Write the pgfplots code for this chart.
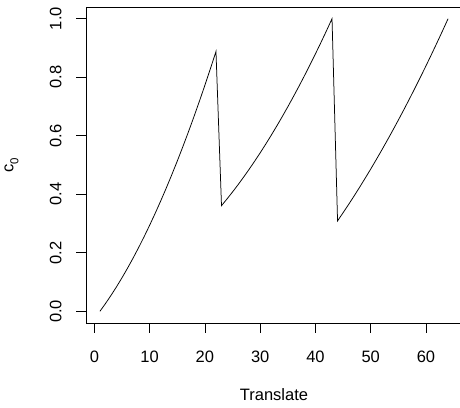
\documentclass[border=0pt]{standalone}
\usepackage{fontspec}
\setmainfont{Liberation Sans}
\usepackage{pgfplots}
\pgfplotsset{compat=1.18}
\begin{document}
\begin{tikzpicture}
\useasboundingbox (0,0) rectangle (460pt,407pt);
\begin{axis}[
  at={(86pt,84pt)}, anchor=south west,
  scale only axis, width=376pt, height=316pt,
  xmin=-1.52, xmax=66.52, ymin=-0.04, ymax=1.04,
  xtick={0,10,20,30,40,50,60},
  ytick={0,0.2,0.4,0.6,0.8,1.0},
  yticklabels={0.0,0.2,0.4,0.6,0.8,1.0},
  /pgf/number format/assume math mode=true,
  tick align=outside, major tick length=9.6pt,
  xtick pos=bottom, ytick pos=left,
  axis line style={line width=0.8pt},
  every tick/.style={black, line width=0.8pt},
  tick label style={font=\fontsize{16.5}{19}\selectfont},
  xticklabel style={anchor=base, yshift=-29.6pt},
  yticklabel style={xshift=-14.7pt, rotate=90, anchor=south, inner sep=0pt},
  xlabel={Translate}, ylabel={c\raisebox{-5pt}{\fontsize{11.5}{13}\selectfont 0}},
  every axis x label/.style={at={(axis description cs:0.5,0)}, anchor=base, yshift=-77pt, font=\fontsize{16.5}{19}\selectfont},
  every axis y label/.style={at={(axis description cs:0,0.5)}, xshift=-72.7pt, rotate=90, anchor=base, font=\fontsize{16.5}{19}\selectfont},
  clip=false,
]
\addplot[black, line width=0.75pt, mark=none] coordinates {
(1,0) (2,0.0263) (3,0.0542) (4,0.0837) (5,0.1148) (6,0.1475) (7,0.1818)
(8,0.2177) (9,0.2551) (10,0.2942) (11,0.3349) (12,0.3772) (13,0.4211)
(14,0.4665) (15,0.5136) (16,0.5623) (17,0.6125) (18,0.6644) (19,0.7179)
(20,0.7729) (21,0.8296) (22,0.8879)
(23,0.3610) (24,0.3840) (25,0.4079) (26,0.4327) (27,0.4586) (28,0.4853)
(29,0.5130) (30,0.5416) (31,0.5712) (32,0.6017) (33,0.6332) (34,0.6656)
(35,0.6990) (36,0.7333) (37,0.7685) (38,0.8047) (39,0.8418) (40,0.8799)
(41,0.9189) (42,0.9589) (43,1.0000)
(44,0.3090) (45,0.3368) (46,0.3651) (47,0.3943) (48,0.4242) (49,0.4549)
(50,0.4861) (51,0.5182) (52,0.5510) (53,0.5844) (54,0.6186) (55,0.6535)
(56,0.6891) (57,0.7255) (58,0.7626) (59,0.8004) (60,0.8388) (61,0.8781)
(62,0.9180) (63,0.9586) (64,1.0000)
};
\end{axis}
\end{tikzpicture}
\end{document}
